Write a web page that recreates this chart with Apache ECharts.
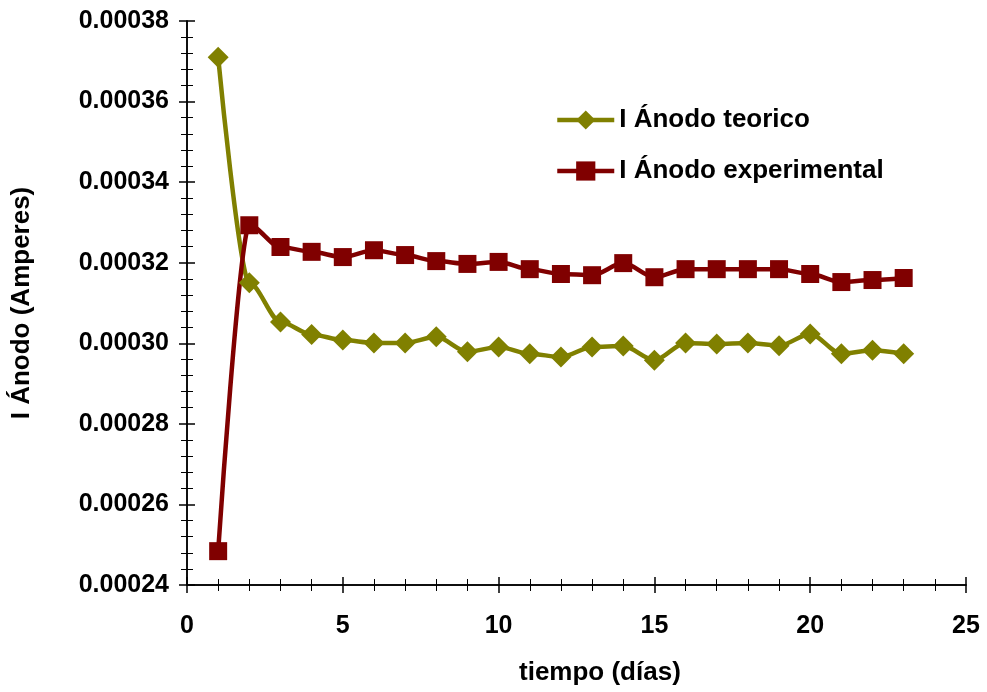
<!DOCTYPE html>
<html>
<head>
<meta charset="utf-8">
<script src="https://cdn.jsdelivr.net/npm/echarts@6/dist/echarts.min.js"></script>
<style>
html,body{margin:0;padding:0;background:#fff;}
#chart{width:987px;height:692px;}
</style>
</head>
<body>
<div id="chart"></div>
<script>
// Days of measurement
const dias = [1,2,3,4,5,6,7,8,9,10,11,12,13,14,15,16,17,18,19,20,21,22,23];
// Theoretical anode current (A)
const teorico = [0.000371,0.000315,0.0003053,0.0003022,0.0003008,0.0003001,0.0003001,0.0003016,0.0002979,0.0002991,0.0002974,0.0002966,0.0002991,0.0002993,0.0002958,0.0003001,0.0002998,0.0003001,0.0002994,0.0003023,0.0002974,0.0002983,0.0002974];
// Experimental anode current (A)
const experimental = [0.0002484,0.0003293,0.0003239,0.0003227,0.0003214,0.0003231,0.0003219,0.0003204,0.0003197,0.0003202,0.0003184,0.0003172,0.0003169,0.0003199,0.0003164,0.0003184,0.0003184,0.0003184,0.0003184,0.0003172,0.0003152,0.0003157,0.0003162];

const FONT = '"Liberation Sans", Arial, sans-serif';
const chart = echarts.init(document.getElementById('chart'));

const xBase = {
  type: 'value', min: 0, max: 25, interval: 5,
  axisLine: { show: true, onZero: false, lineStyle: { color: '#000', width: 1.5 } },
  splitLine: { show: false }
};
const yBase = {
  type: 'value', min: 0.00024, max: 0.00038, interval: 0.00002,
  axisLine: { show: true, onZero: false, lineStyle: { color: '#000', width: 1.5 } },
  splitLine: { show: false }
};

chart.setOption({
  animation: false,
  backgroundColor: '#fff',
  grid: { left: 187, right: 21, top: 21, bottom: 107 },
  title: {
    text: 'tiempo (días)', left: 514, top: 655,
    textStyle: { fontFamily: FONT, fontSize: 26, fontWeight: 'bold', color: '#000' }
  },
  legend: {
    orient: 'vertical', left: 550, top: 102,
    itemWidth: 57, itemHeight: 24, itemGap: 25,
    lineStyle: { width: 4.5 },
    textStyle: { fontFamily: FONT, fontSize: 26, fontWeight: 'bold', color: '#000' },
    data: ['I Ánodo teorico', 'I Ánodo experimental']
  },
  xAxis: [
    Object.assign({}, xBase, {
      axisTick: { show: true, length: 8, lineStyle: { color: '#000', width: 1.5 } },
      minorTick: { show: true, splitNumber: 5, length: 6, lineStyle: { color: '#000', width: 1 } },
      axisLabel: { margin: 29, fontFamily: FONT, fontSize: 25, fontWeight: 'bold', color: '#000' }
    }),
    Object.assign({}, xBase, {
      position: 'bottom',
      axisTick: { show: true, inside: true, length: 8, lineStyle: { color: '#000', width: 1.5 } },
      minorTick: { show: true, splitNumber: 5, length: 6, lineStyle: { color: '#000', width: 1 } },
      axisLabel: { show: false }
    })
  ],
  yAxis: [
    Object.assign({}, yBase, {
      name: 'I Ánodo (Amperes)', nameLocation: 'middle', nameGap: 152,
      nameTextStyle: { fontFamily: FONT, fontSize: 26, fontWeight: 'bold', color: '#000' },
      axisTick: { show: true, length: 8, lineStyle: { color: '#000', width: 1.5 } },
      minorTick: { show: true, splitNumber: 5, length: 6, lineStyle: { color: '#000', width: 1 } },
      axisLabel: { margin: 18, fontFamily: FONT, fontSize: 25, fontWeight: 'bold', color: '#000',
        formatter: v => v.toFixed(5) }
    }),
    Object.assign({}, yBase, {
      position: 'left',
      axisTick: { show: true, inside: true, length: 8, lineStyle: { color: '#000', width: 1.5 } },
      minorTick: { show: true, splitNumber: 5, length: 6, lineStyle: { color: '#000', width: 1 } },
      axisLabel: { show: false }
    })
  ],
  series: [
    {
      name: 'I Ánodo teorico', type: 'line', smooth: 0.3, smoothMonotone: 'x',
      data: dias.map((d, i) => [d, teorico[i]]),
      symbol: 'diamond', symbolSize: 21,
      lineStyle: { color: '#808000', width: 4.5 },
      itemStyle: { color: '#808000' }
    },
    {
      name: 'I Ánodo experimental', type: 'line', smooth: 0.3, smoothMonotone: 'x',
      data: dias.map((d, i) => [d, experimental[i]]),
      symbol: 'rect', symbolSize: 18,
      lineStyle: { color: '#800000', width: 4.5 },
      itemStyle: { color: '#800000' }
    }
  ]
});
</script>
</body>
</html>
